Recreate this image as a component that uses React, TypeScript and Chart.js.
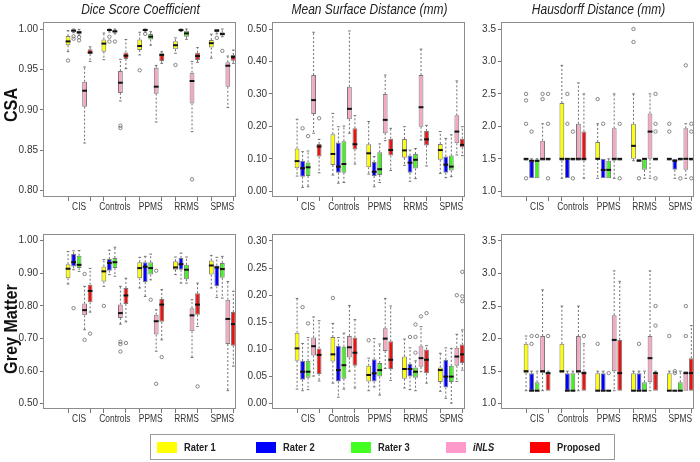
import React, { useEffect, useRef } from 'react';
import { Chart, registerables } from 'chart.js';

Chart.register(...registerables);

// [lower whisker, Q1, median, Q3, upper whisker] per group
type Stat = [number, number, number, number, number];
// [group index, series index, value]
type Outlier = [number, number, number];

const groups = ['CIS', 'Controls', 'PPMS', 'RRMS', 'SPMS'];
const seriesNames = ['Rater 1', 'Rater 2', 'Rater 3', 'iNLS', 'Proposed'];
const boxColors = ['#ffff00', '#0000ff', '#44f022', '#f5a8c0', '#e81414'];
const legendColors = ['#ffff00', '#0000ff', '#44ff22', '#ff99cc', '#ff0000'];

// ---------- Dice Score Coefficient, CSA ----------
const dscCsaTicks = [0.8, 0.85, 0.9, 0.95, 1.0];
const dscCsaRater1: Stat[] = [[0.972, 0.98, 0.9847, 0.9913, 0.998], [0.962, 0.972, 0.982, 0.987, 0.995], [0.968, 0.974, 0.979, 0.987, 0.996], [0.97, 0.975, 0.98, 0.985, 0.989], [0.964, 0.977, 0.9825, 0.9864, 0.9936]];
const dscCsaRater2: Stat[] = [[0.9955, 0.9965, 0.998, 0.9995, 1.0], [0.9963, 0.998, 0.9988, 0.9995, 1.0], [0.9963, 0.998, 0.9988, 0.9996, 1.0], [0.997, 0.998, 0.9988, 0.9995, 1.0], [0.994, 0.996, 0.998, 1.0, 1.0]];
const dscCsaRater3: Stat[] = [[0.992, 0.994, 0.996, 0.998, 0.9995], [0.994, 0.9959, 0.997, 0.9988, 1.0], [0.98, 0.987, 0.9905, 0.9938, 0.9967], [0.9872, 0.9905, 0.9946, 0.998, 1.0], [0.9905, 0.992, 0.9938, 0.996, 1.0]];
const dscCsaInls: Stat[] = [[0.859, 0.904, 0.9237, 0.9348, 0.953], [0.911, 0.921, 0.9336, 0.948, 0.9625], [0.885, 0.92, 0.9287, 0.952, 0.955], [0.873, 0.908, 0.9357, 0.946, 0.96], [0.903, 0.9286, 0.9546, 0.9588, 0.9666]];
const dscCsaProposed: Stat[] = [[0.96, 0.969, 0.971, 0.975, 0.978], [0.951, 0.963, 0.967, 0.971, 0.987], [0.9575, 0.9604, 0.968, 0.97, 0.972], [0.9588, 0.9616, 0.9666, 0.9707, 0.977], [0.9575, 0.9608, 0.9653, 0.9678, 0.974]];
const dscCsaOutliers: Outlier[] = [[0, 0, 0.961], [0, 1, 0.991], [0, 1, 0.988], [0, 2, 0.99], [0, 2, 0.986], [1, 1, 0.9905], [1, 1, 0.9845], [1, 2, 0.9845], [1, 3, 0.8804], [1, 3, 0.8775], [2, 0, 0.949], [2, 1, 0.994], [3, 0, 0.9555], [3, 3, 0.814], [4, 1, 0.989], [4, 2, 0.973]];

// ---------- Mean Surface Distance, CSA ----------
const msdCsaTicks = [0.0, 0.1, 0.2, 0.3, 0.4, 0.5];
const msdCsaRater1: Stat[] = [[0.047, 0.071, 0.093, 0.132, 0.222], [0.05, 0.081, 0.115, 0.176, 0.24], [0.053, 0.074, 0.117, 0.145, 0.215], [0.08, 0.103, 0.126, 0.161, 0.199], [0.055, 0.097, 0.127, 0.146, 0.184]];
const msdCsaRater2: Stat[] = [[0.012, 0.045, 0.071, 0.094, 0.122], [0.025, 0.057, 0.076, 0.15, 0.199], [0.014, 0.047, 0.06, 0.09, 0.107], [0.031, 0.057, 0.088, 0.11, 0.127], [0.042, 0.057, 0.082, 0.107, 0.163]];
const msdCsaRater3: Stat[] = [[0.014, 0.047, 0.074, 0.089, 0.124], [0.027, 0.057, 0.084, 0.154, 0.201], [0.027, 0.05, 0.068, 0.12, 0.146], [0.039, 0.07, 0.097, 0.115, 0.132], [0.045, 0.064, 0.076, 0.11, 0.174]];
const msdCsaInls: Stat[] = [[0.179, 0.238, 0.281, 0.358, 0.49], [0.179, 0.222, 0.254, 0.322, 0.494], [0.156, 0.179, 0.22, 0.3, 0.358], [0.158, 0.199, 0.259, 0.358, 0.438], [0.112, 0.148, 0.184, 0.234, 0.34]];
const msdCsaProposed: Stat[] = [[0.057, 0.107, 0.138, 0.146, 0.16], [0.084, 0.129, 0.145, 0.194, 0.233], [0.064, 0.11, 0.127, 0.162, 0.194], [0.078, 0.141, 0.16, 0.186, 0.203], [0.11, 0.135, 0.143, 0.162, 0.199]];
const msdCsaOutliers: Outlier[] = [[0, 1, 0.194], [0, 2, 0.17], [0, 4, 0.225]];

// ---------- Hausdorff Distance, CSA ----------
const hdCsaTicks = [1.0, 1.5, 2.0, 2.5, 3.0, 3.5];
const hdCsaRater1: Stat[] = [[1.47, 1.47, 1.5, 1.5, 1.5], [1.2, 1.47, 1.5, 2.36, 2.94], [1.2, 1.5, 1.5, 1.76, 2.04], [1.47, 1.5, 1.7, 2.04, 2.5], [1.47, 1.47, 1.5, 1.5, 1.5]];
const hdCsaRater2: Stat[] = [[1.2, 1.2, 1.47, 1.47, 1.5], [1.2, 1.2, 1.5, 1.5, 1.5], [1.2, 1.2, 1.33, 1.5, 1.5], [1.47, 1.47, 1.47, 1.5, 1.5], [1.2, 1.33, 1.47, 1.5, 1.5]];
const hdCsaRater3: Stat[] = [[1.2, 1.2, 1.47, 1.47, 1.5], [1.47, 1.47, 1.5, 1.5, 1.5], [1.2, 1.2, 1.33, 1.47, 1.5], [1.2, 1.33, 1.5, 1.5, 1.5], [1.47, 1.47, 1.5, 1.5, 1.5]];
const hdCsaInls: Stat[] = [[1.47, 1.47, 1.5, 1.78, 2.04], [1.47, 1.47, 1.5, 2.04, 2.67], [1.2, 1.47, 1.5, 1.97, 2.5], [1.2, 1.5, 1.92, 2.2, 2.5], [1.2, 1.33, 1.5, 1.97, 2.04]];
const hdCsaProposed: Stat[] = [[1.47, 1.47, 1.5, 1.5, 1.5], [1.2, 1.47, 1.5, 1.92, 2.5], [1.47, 1.47, 1.5, 1.5, 1.5], [1.47, 1.47, 1.5, 1.5, 1.5], [1.47, 1.47, 1.5, 1.5, 1.5]];
const hdCsaOutliers: Outlier[] = [[0, 0, 1.2], [0, 0, 2.04], [0, 0, 2.4], [0, 0, 2.5], [0, 1, 1.92], [0, 3, 2.42], [0, 3, 2.5], [0, 4, 1.2], [0, 4, 2.04], [0, 4, 2.5], [1, 1, 2.04], [1, 1, 2.5], [1, 2, 1.2], [1, 2, 1.92], [2, 0, 2.42], [2, 1, 2.04], [2, 4, 1.2], [2, 4, 2.04], [3, 0, 3.3], [3, 0, 3.5], [3, 1, 1.2], [3, 4, 1.2], [3, 4, 1.92], [3, 4, 2.04], [3, 4, 2.5], [4, 0, 1.92], [4, 0, 2.04], [4, 2, 1.2], [4, 3, 2.94], [4, 4, 1.2], [4, 4, 1.92], [4, 4, 2.04]];

// ---------- Dice Score Coefficient, Grey Matter ----------
const dscGmTicks = [0.5, 0.6, 0.7, 0.8, 0.9, 1.0];
const dscGmRater1: Stat[] = [[0.867, 0.885, 0.914, 0.928, 0.967], [0.86, 0.875, 0.906, 0.921, 0.942], [0.855, 0.885, 0.916, 0.934, 0.949], [0.896, 0.911, 0.918, 0.937, 0.95], [0.855, 0.896, 0.924, 0.939, 0.955]];
const dscGmRater2: Stat[] = [[0.911, 0.921, 0.934, 0.959, 0.969], [0.896, 0.908, 0.932, 0.944, 0.971], [0.829, 0.873, 0.92, 0.934, 0.952], [0.87, 0.911, 0.928, 0.947, 0.962], [0.826, 0.86, 0.918, 0.924, 0.949]];
const dscGmRater3: Stat[] = [[0.906, 0.916, 0.926, 0.954, 0.97], [0.891, 0.916, 0.934, 0.947, 0.98], [0.88, 0.896, 0.916, 0.934, 0.959], [0.87, 0.882, 0.911, 0.926, 0.95], [0.824, 0.886, 0.913, 0.932, 0.952]];
const dscGmInls: Stat[] = [[0.727, 0.771, 0.787, 0.807, 0.86], [0.744, 0.763, 0.778, 0.804, 0.86], [0.661, 0.712, 0.753, 0.773, 0.788], [0.642, 0.722, 0.771, 0.793, 0.819], [0.54, 0.683, 0.76, 0.819, 0.875]];
const dscGmProposed: Stat[] = [[0.781, 0.811, 0.846, 0.865, 0.915], [0.751, 0.806, 0.832, 0.855, 0.885], [0.696, 0.751, 0.804, 0.821, 0.85], [0.737, 0.773, 0.804, 0.839, 0.87], [0.615, 0.678, 0.744, 0.781, 0.845]];
const dscGmOutliers: Outlier[] = [[0, 1, 0.793], [0, 3, 0.898], [0, 3, 0.696], [0, 4, 0.715], [1, 0, 0.8], [1, 3, 0.69], [1, 3, 0.683], [1, 3, 0.66], [1, 4, 0.686], [2, 2, 0.819], [2, 3, 0.561], [2, 3, 0.908], [2, 4, 0.643], [3, 4, 0.553]];

// ---------- Mean Surface Distance, Grey Matter ----------
const msdGmTicks = [0.0, 0.05, 0.1, 0.15, 0.2, 0.25, 0.3];
const msdGmRater1: Stat[] = [[0.027, 0.079, 0.102, 0.131, 0.194], [0.038, 0.078, 0.091, 0.123, 0.148], [0.024, 0.041, 0.053, 0.07, 0.084], [0.029, 0.046, 0.064, 0.087, 0.119], [0.023, 0.04, 0.062, 0.067, 0.093]];
const msdGmRater2: Stat[] = [[0.024, 0.044, 0.059, 0.079, 0.111], [0.012, 0.041, 0.062, 0.107, 0.122], [0.031, 0.041, 0.056, 0.082, 0.12], [0.026, 0.05, 0.064, 0.073, 0.103], [0.01, 0.03, 0.05, 0.081, 0.103]];
const msdGmRater3: Stat[] = [[0.026, 0.048, 0.059, 0.079, 0.122], [0.027, 0.046, 0.071, 0.105, 0.13], [0.016, 0.05, 0.062, 0.075, 0.11], [0.024, 0.048, 0.059, 0.067, 0.079], [0.001, 0.04, 0.05, 0.07, 0.102]];
const msdGmInls: Stat[] = [[0.051, 0.089, 0.106, 0.122, 0.16], [0.06, 0.085, 0.104, 0.125, 0.181], [0.065, 0.097, 0.12, 0.139, 0.194], [0.059, 0.068, 0.084, 0.106, 0.142], [0.041, 0.07, 0.087, 0.103, 0.128]];
const msdGmProposed: Stat[] = [[0.042, 0.055, 0.09, 0.102, 0.153], [0.029, 0.07, 0.094, 0.122, 0.155], [0.043, 0.064, 0.081, 0.115, 0.18], [0.038, 0.056, 0.081, 0.1, 0.107], [0.062, 0.075, 0.091, 0.109, 0.136]];
const msdGmOutliers: Outlier[] = [[0, 1, 0.178], [0, 2, 0.148], [1, 0, 0.195], [2, 0, 0.117], [3, 1, 0.123], [3, 2, 0.094], [3, 2, 0.123], [3, 2, 0.146], [3, 3, 0.161], [3, 4, 0.167], [4, 3, 0.2], [4, 4, 0.243], [4, 4, 0.198], [4, 4, 0.189]];

// ---------- Hausdorff Distance, Grey Matter ----------
const hdGmTicks = [1.0, 1.5, 2.0, 2.5, 3.0, 3.5];
const hdGmRater1: Stat[] = [[1.2, 1.47, 1.5, 1.92, 2.04], [1.47, 1.47, 1.5, 1.92, 2.5], [1.2, 1.2, 1.2, 1.47, 1.5], [1.2, 1.2, 1.2, 1.47, 1.5], [1.2, 1.2, 1.2, 1.47, 1.5]];
const hdGmRater2: Stat[] = [[1.2, 1.2, 1.2, 1.47, 1.5], [1.2, 1.2, 1.2, 1.47, 1.5], [1.2, 1.2, 1.2, 1.47, 1.5], [1.2, 1.2, 1.2, 1.47, 1.5], [1.2, 1.2, 1.2, 1.2, 1.2]];
const hdGmRater3: Stat[] = [[1.2, 1.2, 1.2, 1.33, 1.5], [1.2, 1.2, 1.2, 1.47, 1.5], [1.2, 1.2, 1.2, 1.2, 1.2], [1.2, 1.2, 1.2, 1.33, 1.5], [1.2, 1.2, 1.2, 1.33, 1.5]];
const hdGmInls: Stat[] = [[1.2, 1.47, 1.5, 2.04, 2.75], [1.2, 1.47, 1.5, 2.04, 2.5], [1.2, 1.5, 1.98, 2.36, 3.04], [1.2, 1.33, 1.7, 2.04, 3.04], [1.2, 1.2, 1.47, 1.5, 1.5]];
const hdGmProposed: Stat[] = [[1.2, 1.2, 1.47, 1.47, 1.5], [1.2, 1.2, 1.47, 1.5, 1.92], [1.2, 1.2, 1.47, 1.98, 2.88], [1.2, 1.2, 1.47, 1.47, 1.5], [1.2, 1.2, 1.47, 1.7, 2.2]];
const hdGmOutliers: Outlier[] = [[0, 1, 1.92], [0, 1, 2.04], [0, 2, 2.04], [0, 4, 2.04], [1, 4, 2.04], [2, 0, 1.92], [2, 2, 1.47], [3, 1, 1.92], [3, 4, 2.2], [3, 4, 2.5], [4, 0, 2.04], [4, 1, 1.47], [4, 1, 1.5], [4, 3, 2.04], [4, 3, 2.5]];

// ---------- layout / style ----------
const GROUP_STEP = 6.5;
const X_MIN = -4.55;
const X_MAX = 30.52;
const PLOT_W = 195;
const PAD_L = 43;
const PAD_T = 22;
const CANVAS_W = 241;
const CANVAS_H = 225;
const SANS = "'Liberation Sans', Arial, sans-serif";
const TEXT_SQUEEZE = 0.8;

type PanelCfg = {
  title?: string;
  series: Stat[][];
  outliers: Outlier[];
  ticks: number[];
  decimals: number;
  yMin: number;
  yMax: number;
  left: number;
  top: number;
};

const panels: PanelCfg[] = [
  { title: 'Dice Score Coefficient', series: [dscCsaRater1, dscCsaRater2, dscCsaRater3, dscCsaInls, dscCsaProposed], outliers: dscCsaOutliers, ticks: dscCsaTicks, decimals: 2, yMin: 0.7922, yMax: 1.0087, left: 43, top: 22 },
  { title: 'Mean Surface Distance (mm)', series: [msdCsaRater1, msdCsaRater2, msdCsaRater3, msdCsaInls, msdCsaProposed], outliers: msdCsaOutliers, ticks: msdCsaTicks, decimals: 2, yMin: -0.0176, yMax: 0.5216, left: 272, top: 22 },
  { title: 'Hausdorff Distance (mm)', series: [hdCsaRater1, hdCsaRater2, hdCsaRater3, hdCsaInls, hdCsaProposed], outliers: hdCsaOutliers, ticks: hdCsaTicks, decimals: 1, yMin: 0.912, yMax: 3.608, left: 501, top: 22 },
  { series: [dscGmRater1, dscGmRater2, dscGmRater3, dscGmInls, dscGmProposed], outliers: dscGmOutliers, ticks: dscGmTicks, decimals: 2, yMin: 0.4837, yMax: 1.0206, left: 43, top: 234 },
  { series: [msdGmRater1, msdGmRater2, msdGmRater3, msdGmInls, msdGmProposed], outliers: msdGmOutliers, ticks: msdGmTicks, decimals: 2, yMin: -0.0097, yMax: 0.3128, left: 272, top: 234 },
  { series: [hdGmRater1, hdGmRater2, hdGmRater3, hdGmInls, hdGmProposed], outliers: hdGmOutliers, ticks: hdGmTicks, decimals: 1, yMin: 0.919, yMax: 3.607, left: 501, top: 234 },
];

const xTickValues: number[] = [];
groups.forEach((_, g) => {
  xTickValues.push(g * GROUP_STEP, g * GROUP_STEP + 4);
});

const boxPlugin = {
  id: 'boxWhiskers',
  afterDatasetsDraw(chart: any) {
    const ctx = chart.ctx;
    const y = chart.scales.y;
    const py = (v: number) => y.getPixelForValue(v);
    chart.data.datasets.forEach((ds: any, di: number) => {
      if (!ds.stats) return;
      const meta = chart.getDatasetMeta(di);
      meta.data.forEach((el: any, i: number) => {
        const [lo, q1, med, q3, hi] = ds.stats[i];
        const x = el.x;
        const half = el.width / 2;
        ctx.save();
        ctx.lineWidth = 1;
        ctx.strokeStyle = '#707070';
        ctx.setLineDash([2, 2]);
        ctx.beginPath();
        if (hi > q3) {
          ctx.moveTo(x, py(q3));
          ctx.lineTo(x, py(hi));
        }
        if (lo < q1) {
          ctx.moveTo(x, py(q1));
          ctx.lineTo(x, py(lo));
        }
        ctx.stroke();
        ctx.setLineDash([]);
        ctx.beginPath();
        const sw = half * 0.55;
        if (hi > q3) {
          ctx.moveTo(x - sw, py(hi));
          ctx.lineTo(x + sw, py(hi));
        }
        if (lo < q1) {
          ctx.moveTo(x - sw, py(lo));
          ctx.lineTo(x + sw, py(lo));
        }
        ctx.stroke();
        if (q3 === q1) {
          ctx.strokeStyle = '#7a7a7a';
          ctx.beginPath();
          ctx.moveTo(x - half, py(q1));
          ctx.lineTo(x + half, py(q1));
          ctx.stroke();
        }
        ctx.strokeStyle = '#111';
        ctx.lineWidth = 2;
        ctx.beginPath();
        ctx.moveTo(x - half, py(med));
        ctx.lineTo(x + half, py(med));
        ctx.stroke();
        ctx.restore();
      });
    });
  },
};

const framePlugin = {
  id: 'frame',
  afterDraw(chart: any) {
    const { ctx, chartArea: a } = chart;
    ctx.save();
    ctx.strokeStyle = '#8c8c8c';
    ctx.lineWidth = 1;
    ctx.strokeRect(Math.round(a.left) + 0.5, Math.round(a.top) + 0.5, Math.round(a.right - a.left) - 1, Math.round(a.bottom - a.top) - 1);
    ctx.restore();
  },
};

// group names under the x axis, drawn at the scale's pixel for each group centre
const groupLabelPlugin = {
  id: 'groupLabels',
  afterDraw(chart: any) {
    const { ctx, chartArea: a } = chart;
    const x = chart.scales.x;
    ctx.save();
    ctx.fillStyle = '#333';
    ctx.font = `10.5px ${SANS}`;
    ctx.textAlign = 'center';
    ctx.textBaseline = 'middle';
    groups.forEach((name, g) => {
      const px = x.getPixelForValue(g * GROUP_STEP + 2);
      ctx.save();
      ctx.translate(px, a.bottom + 10.5);
      ctx.scale(TEXT_SQUEEZE, 1);
      ctx.fillText(name, 0, 0);
      ctx.restore();
    });
    ctx.restore();
  },
};

function Panel({ p }: { p: PanelCfg }) {
  const ref = useRef<HTMLCanvasElement>(null);
  useEffect(() => {
    const canvas = ref.current as HTMLCanvasElement;
    const datasets: any[] = p.series.map((stats, s) => ({
      type: 'bar',
      label: seriesNames[s],
      data: stats.map((st, g) => ({ x: g * GROUP_STEP + s, y: [st[1], st[3]] })),
      stats,
      backgroundColor: boxColors[s],
      borderColor: '#7a7a7a',
      borderWidth: 1,
      borderSkipped: false,
      grouped: false,
      categoryPercentage: 1,
      barPercentage: 0.9,
      maxBarThickness: 4.8,
    }));
    datasets.push({
      type: 'scatter',
      label: 'outliers',
      data: p.outliers.map(([g, s, v]) => ({ x: g * GROUP_STEP + s, y: v })),
      pointStyle: 'circle',
      pointRadius: 1.7,
      borderColor: '#6a6a6a',
      borderWidth: 0.8,
      backgroundColor: 'rgba(0,0,0,0)',
    });
    const chart = new Chart(canvas, {
      type: 'bar',
      data: { datasets },
      options: {
        responsive: false,
        animation: false,
        devicePixelRatio: 1,
        events: [],
        layout: { padding: { left: 3, top: PAD_T, right: CANVAS_W - PAD_L - PLOT_W, bottom: 6 } },
        plugins: { legend: { display: false }, tooltip: { enabled: false }, title: { display: false } },
        scales: {
          x: {
            type: 'linear',
            min: X_MIN,
            max: X_MAX,
            offset: false,
            afterBuildTicks: (scale: any) => {
              scale.ticks = xTickValues.map((v) => ({ value: v }));
            },
            afterFit: (scale: any) => {
              scale.height = 22;
            },
            grid: { offset: false, drawOnChartArea: false, drawTicks: true, tickLength: 4, tickColor: '#777' },
            border: { display: false },
            ticks: { autoSkip: false, maxRotation: 0, minRotation: 0, padding: 0, callback: () => '' },
          },
          y: {
            min: p.yMin,
            max: p.yMax,
            afterBuildTicks: (scale: any) => {
              scale.ticks = p.ticks.map((v) => ({ value: v }));
            },
            afterFit: (scale: any) => {
              scale.width = 40;
            },
            grid: { drawOnChartArea: false, drawTicks: true, tickLength: 3, tickColor: '#777' },
            border: { display: false },
            ticks: {
              padding: 2,
              color: '#333',
              font: { family: SANS, size: 10 },
              callback: (v: any) => Number(v).toFixed(p.decimals),
            },
          },
        },
      } as any,
      plugins: [boxPlugin, framePlugin, groupLabelPlugin],
    } as any);
    return () => chart.destroy();
  }, [p]);
  return (
    <canvas
      ref={ref}
      width={CANVAS_W}
      height={CANVAS_H}
      style={{ position: 'absolute', left: p.left - PAD_L, top: p.top - PAD_T, width: CANVAS_W, height: CANVAS_H }}
    />
  );
}

const rowLabels = [
  { text: 'CSA', cx: 11, cy: 105 },
  { text: 'Grey Matter', cx: 11, cy: 329 },
];
const legendLefts = [157, 256, 351, 446, 530];

export default function App() {
  return (
    <div style={{ position: 'fixed', left: 0, top: 0, width: 700, height: 462, background: '#fff', overflow: 'hidden' }}>
      {panels.map((p, i) => (
        <Panel key={i} p={p} />
      ))}
      {panels
        .filter((p) => p.title)
        .map((p, i) => (
          <div
            key={'t' + i}
            style={{
              position: 'absolute',
              left: p.left - 50,
              top: 0,
              width: PLOT_W + 100,
              textAlign: 'center',
              fontFamily: SANS,
              fontStyle: 'italic',
              fontSize: 15,
              lineHeight: '17px',
              color: '#222',
              whiteSpace: 'nowrap',
              transform: `scaleX(${TEXT_SQUEEZE})`,
            }}
          >
            {p.title}
          </div>
        ))}
      {rowLabels.map((r, i) => (
        <div
          key={'r' + i}
          style={{
            position: 'absolute',
            left: r.cx - 100,
            top: r.cy - 11,
            width: 200,
            height: 22,
            lineHeight: '22px',
            textAlign: 'center',
            transform: `rotate(-90deg) scaleX(${TEXT_SQUEEZE + 0.05})`,
            fontFamily: SANS,
            fontWeight: 'bold',
            fontSize: 19,
            color: '#111',
            whiteSpace: 'nowrap',
          }}
        >
          {r.text}
        </div>
      ))}
      <div
        style={{
          position: 'absolute',
          left: 150,
          top: 434,
          width: 465,
          height: 26,
          border: '1px solid #999',
          boxSizing: 'border-box',
        }}
      >
        {seriesNames.map((name, i) => (
          <div key={name} style={{ position: 'absolute', left: legendLefts[i] - 151, top: 0, height: 24, display: 'flex', alignItems: 'center' }}>
            <div style={{ width: 20, height: 11, background: legendColors[i], flex: 'none' }} />
            <span
              style={{
                marginLeft: 7,
                fontFamily: SANS,
                fontWeight: 'bold',
                fontStyle: name === 'iNLS' ? 'italic' : 'normal',
                fontSize: 11,
                color: '#222',
                whiteSpace: 'nowrap',
                display: 'inline-block',
                transform: `scaleX(${TEXT_SQUEEZE + 0.05})`,
                transformOrigin: 'left center',
              }}
            >
              {name}
            </span>
          </div>
        ))}
      </div>
    </div>
  );
}
